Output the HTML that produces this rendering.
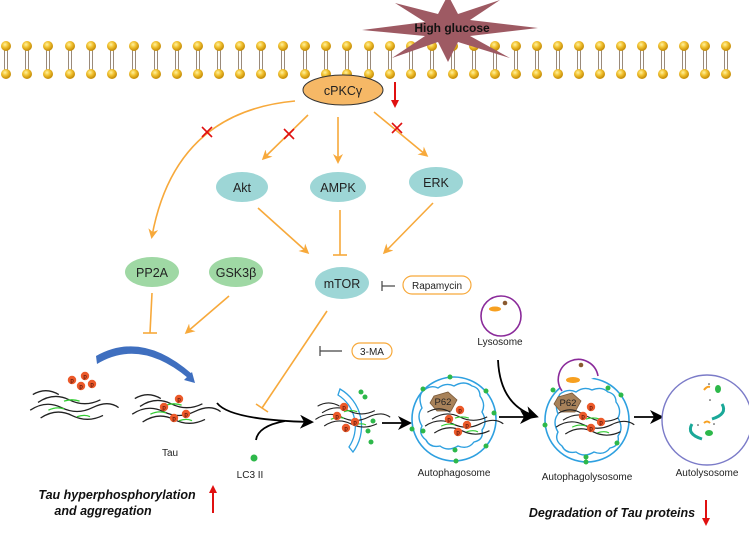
<!DOCTYPE html>
<html><head><meta charset="utf-8"><style>
html,body{margin:0;padding:0;background:#fff}
svg text{font-family:"Liberation Sans",sans-serif}
</style></head><body>
<svg width="749" height="528" viewBox="0 0 749 528" xmlns="http://www.w3.org/2000/svg">
<defs>
<marker id="oa" markerWidth="10" markerHeight="10" refX="7" refY="5" orient="auto" markerUnits="userSpaceOnUse"><path d="M0,0 L10,5 L0,10 L3,5 Z" fill="#f7a93b"/></marker>
<marker id="ba" markerWidth="14" markerHeight="14" refX="10" refY="7" orient="auto" markerUnits="userSpaceOnUse"><path d="M0,0 L14,7 L0,14 L4,7 Z" fill="#000"/></marker>
<marker id="ra" markerWidth="8" markerHeight="8" refX="4" refY="4" orient="auto" markerUnits="userSpaceOnUse"><path d="M0,0 L8,4 L0,8 Z" fill="#e01010"/></marker>
<radialGradient id="hg" cx="0.4" cy="0.35" r="0.6"><stop offset="0" stop-color="#fff2a0"/><stop offset="0.5" stop-color="#f2c230"/><stop offset="1" stop-color="#c8900a"/></radialGradient>
<g id="lip"><line x1="-1.5" y1="50" x2="-1.5" y2="70" stroke="#9a8a7a" stroke-width="1"/><line x1="1.5" y1="50" x2="1.5" y2="70" stroke="#9a8a7a" stroke-width="1"/><circle cx="0" cy="46" r="5" fill="url(#hg)"/><circle cx="0" cy="74" r="5" fill="url(#hg)"/></g>
<g id="strand" fill="none" stroke-width="1"><path d="M0,8 q12,-8 24,-2 t24,0" stroke="#222"/><path d="M-6,14 q12,-8 24,-2 t24,0 t20,0" stroke="#222"/><path d="M2,20 q12,-8 24,-2 t24,0" stroke="#222"/><path d="M-4,2 q10,-6 20,0" stroke="#222"/><path d="M20,7 q6,-2 12,0" stroke="#3c3"/><path d="M8,14 q6,-3 12,-1" stroke="#3c3"/><path d="M30,19 q6,-2 10,0" stroke="#3c3"/></g>
<g id="pp"><circle r="4.2" fill="#ec5a2a"/><text y="2.5" font-size="6" text-anchor="middle" fill="#300">p</text></g>
</defs>

<!-- membrane -->
<g>
<use href="#lip" x="6"/><use href="#lip" x="27"/><use href="#lip" x="48"/><use href="#lip" x="70"/><use href="#lip" x="91"/><use href="#lip" x="112"/><use href="#lip" x="134"/><use href="#lip" x="156"/><use href="#lip" x="177"/><use href="#lip" x="198"/><use href="#lip" x="219"/><use href="#lip" x="240"/><use href="#lip" x="261"/><use href="#lip" x="283"/><use href="#lip" x="305"/><use href="#lip" x="326"/><use href="#lip" x="347"/><use href="#lip" x="369"/><use href="#lip" x="390"/><use href="#lip" x="411"/><use href="#lip" x="432"/><use href="#lip" x="453"/><use href="#lip" x="474"/><use href="#lip" x="495"/><use href="#lip" x="516"/><use href="#lip" x="537"/><use href="#lip" x="558"/><use href="#lip" x="579"/><use href="#lip" x="600"/><use href="#lip" x="621"/><use href="#lip" x="642"/><use href="#lip" x="663"/><use href="#lip" x="684"/><use href="#lip" x="705"/><use href="#lip" x="726"/>
</g>

<!-- starburst (over membrane) -->
<polygon points="448,-5 458,14 500,0 470,20 538,28 470,36 510,58 458,42 448,62 438,42 392,58 425,36 362,30 425,22 395,3 438,14" fill="#9e5a63"/>
<text x="452" y="32" font-size="12" font-weight="bold" text-anchor="middle" fill="#111">High glucose</text>

<!-- cPKCg -->
<ellipse cx="343" cy="90" rx="40" ry="15" fill="#f6b866" stroke="#333" stroke-width="1"/>
<text x="343" y="95" font-size="12.5" text-anchor="middle" fill="#222">cPKCγ</text>
<line x1="395" y1="82" x2="395" y2="104" stroke="#e01010" stroke-width="2" marker-end="url(#ra)"/>

<!-- orange connectors -->
<g stroke="#f7a93b" stroke-width="1.6" fill="none">
<path d="M295,101 Q175,112 152,236" marker-end="url(#oa)"/>
<line x1="308" y1="115" x2="264" y2="158" marker-end="url(#oa)"/>
<line x1="338" y1="117" x2="338" y2="161" marker-end="url(#oa)"/>
<line x1="374" y1="112" x2="426" y2="155" marker-end="url(#oa)"/>
<line x1="258" y1="208" x2="307" y2="252" marker-end="url(#oa)"/>
<line x1="340" y1="210" x2="340" y2="255"/><line x1="333" y1="255" x2="347" y2="255"/>
<line x1="433" y1="203" x2="385" y2="252" marker-end="url(#oa)"/>
<line x1="152" y1="293" x2="150" y2="333"/><line x1="143" y1="333" x2="157" y2="333"/>
<line x1="229" y1="296" x2="187" y2="332" marker-end="url(#oa)"/>
<line x1="327" y1="311" x2="262" y2="408"/><line x1="256" y1="404" x2="268" y2="412"/>
</g>
<!-- red X -->
<g stroke="#e01010" stroke-width="1.6">
<line x1="202" y1="127" x2="212" y2="137"/><line x1="212" y1="127" x2="202" y2="137"/>
<line x1="284" y1="129" x2="294" y2="139"/><line x1="294" y1="129" x2="284" y2="139"/>
<line x1="392" y1="123" x2="402" y2="133"/><line x1="402" y1="123" x2="392" y2="133"/>
</g>

<!-- nodes -->
<g font-size="12.5" text-anchor="middle" fill="#222">
<ellipse cx="242" cy="187" rx="26" ry="15" fill="#9dd6d6"/><text x="242" y="192">Akt</text>
<ellipse cx="338" cy="187" rx="28" ry="15" fill="#9dd6d6"/><text x="338" y="192">AMPK</text>
<ellipse cx="436" cy="182" rx="27" ry="15" fill="#9dd6d6"/><text x="436" y="187">ERK</text>
<ellipse cx="152" cy="272" rx="27" ry="15" fill="#9fd8a4"/><text x="152" y="277">PP2A</text>
<ellipse cx="236" cy="272" rx="27" ry="15" fill="#9fd8a4"/><text x="236" y="277">GSK3β</text>
<ellipse cx="342" cy="283" rx="27" ry="16" fill="#9dd6d6"/><text x="342" y="288">mTOR</text>
</g>
<rect x="403" y="276" width="68" height="18" rx="9" fill="#fff" stroke="#f7a93b" stroke-width="1.2"/>
<text x="437" y="289" font-size="10" text-anchor="middle" fill="#222">Rapamycin</text>
<line x1="382" y1="286" x2="395" y2="286" stroke="#444" stroke-width="1.2"/><line x1="382" y1="281" x2="382" y2="291" stroke="#444" stroke-width="1.2"/>
<rect x="352" y="343" width="40" height="16" rx="8" fill="#fff" stroke="#f7a93b" stroke-width="1.2"/>
<text x="372" y="355" font-size="10" text-anchor="middle" fill="#222">3-MA</text>
<line x1="320" y1="351" x2="342" y2="351" stroke="#444" stroke-width="1.2"/><line x1="320" y1="346" x2="320" y2="356" stroke="#444" stroke-width="1.2"/>

<!-- blue curved arrow -->
<path d="M97,364 Q140,338 188,378 L192,374 Q142,330 96,356 Z" fill="#3f6fbf"/>
<polygon points="184,380 195,383 192,372" fill="#3f6fbf"/>

<!-- tau -->
<g transform="translate(38,392) scale(1.3)"><use href="#strand"/></g>
<use href="#pp" x="72" y="380"/><use href="#pp" x="85" y="376"/><use href="#pp" x="81" y="386"/><use href="#pp" x="92" y="384"/>
<g transform="translate(140,396) scale(1.3)"><use href="#strand"/></g>
<use href="#pp" x="164" y="407"/><use href="#pp" x="179" y="399"/><use href="#pp" x="174" y="418"/><use href="#pp" x="186" y="414"/>
<text x="170" y="456" font-size="10" text-anchor="middle" fill="#222">Tau</text>

<!-- black arrows -->
<path d="M217,403 Q230,420 310,422" stroke="#000" stroke-width="1.8" fill="none" marker-end="url(#ba)"/>
<path d="M256,440 Q258,426 285,421" stroke="#000" stroke-width="1.8" fill="none"/>
<circle cx="254" cy="458" r="3.5" fill="#2db84a"/>
<text x="250" y="478" font-size="10" text-anchor="middle" fill="#222">LC3 II</text>

<!-- phagophore -->
<path d="M340,389 A43,43 0 0 1 353,452 L349,447 A37,37 0 0 0 338,395 Z" fill="none" stroke="#2ea0e0" stroke-width="1.3"/>
<g transform="translate(322,404) scale(1.1)"><use href="#strand"/></g>
<use href="#pp" x="344" y="407"/><use href="#pp" x="337" y="416"/><use href="#pp" x="355" y="422"/><use href="#pp" x="346" y="428"/>
<g fill="#2db84a"><circle cx="361" cy="392" r="2.5"/><circle cx="365" cy="397" r="2.5"/><circle cx="373" cy="421" r="2.5"/><circle cx="368" cy="431" r="2.5"/><circle cx="371" cy="442" r="2.5"/></g>
<line x1="382" y1="423" x2="408" y2="423" stroke="#000" stroke-width="1.8" marker-end="url(#ba)"/>

<!-- autophagosome -->
<circle cx="454" cy="419" r="42" fill="none" stroke="#2ea0e0" stroke-width="1.6"/>
<path d="M422,392 q8,-8 16,-4 q8,-6 16,-2 q10,-6 18,0 q8,2 8,10 q6,8 2,16 q6,10 0,18 q2,10 -8,12 q-6,8 -16,4 q-10,6 -18,0 q-10,2 -14,-6 q-8,-6 -4,-14 q-6,-10 0,-18 q-4,-10 0,-16z" fill="none" stroke="#2ea0e0" stroke-width="1.4"/>
<polygon points="434,396 448,392 457,400 451,411 437,411 430,403" fill="#a8825a" stroke="#7a5a3a" stroke-width="0.8"/>
<text x="443" y="405" font-size="9.5" text-anchor="middle" fill="#222">P62</text>
<g transform="translate(432,410) scale(1.15)"><use href="#strand"/></g>
<use href="#pp" x="460" y="410"/><use href="#pp" x="449" y="419"/><use href="#pp" x="467" y="425"/><use href="#pp" x="458" y="432"/>
<g fill="#2db84a"><circle cx="450" cy="377" r="2.5"/><circle cx="423" cy="389" r="2.5"/><circle cx="486" cy="391" r="2.5"/><circle cx="494" cy="413" r="2.5"/><circle cx="412" cy="429" r="2.5"/><circle cx="486" cy="446" r="2.5"/><circle cx="456" cy="461" r="2.5"/><circle cx="455" cy="450" r="2.5"/><circle cx="423" cy="431" r="2.5"/></g>
<text x="454" y="476" font-size="10" text-anchor="middle" fill="#222">Autophagosome</text>
<line x1="499" y1="417" x2="530" y2="417" stroke="#000" stroke-width="1.8" marker-end="url(#ba)"/>

<!-- lysosome -->
<circle cx="501" cy="316" r="20" fill="#fff" stroke="#8a2a9a" stroke-width="1.6"/>
<ellipse cx="495" cy="309" rx="6" ry="2.5" fill="#f7a020"/><circle cx="505" cy="303" r="2.3" fill="#8a5a30"/>
<text x="500" y="345" font-size="10" text-anchor="middle" fill="#222">Lysosome</text>
<path d="M498,360 Q500,405 535,416" stroke="#000" stroke-width="1.8" fill="none" marker-end="url(#ba)"/>

<!-- autophagolysosome -->
<circle cx="587" cy="420" r="42" fill="none" stroke="#2ea0e0" stroke-width="1.6"/>
<path d="M560,394 q8,-6 16,-2 q8,-6 16,-2 q10,-4 16,2 q8,2 8,10 q6,8 2,16 q6,10 0,18 q2,10 -8,12 q-6,8 -16,4 q-10,6 -18,0 q-10,2 -14,-6 q-8,-6 -4,-14 q-6,-10 0,-18 q-4,-10 2,-20z" fill="none" stroke="#2ea0e0" stroke-width="1.4"/>
<path d="M562,391 A20,20 0 1 1 598,376" fill="#fff" stroke="#8a2a9a" stroke-width="1.6"/>
<ellipse cx="573" cy="380" rx="7" ry="3" fill="#f7a020"/><circle cx="581" cy="365" r="2.3" fill="#8a5a30"/>
<polygon points="558,397 572,393 581,401 575,412 561,412 554,404" fill="#a8825a" stroke="#7a5a3a" stroke-width="0.8"/>
<text x="568" y="406" font-size="9.5" text-anchor="middle" fill="#222">P62</text>
<g transform="translate(563,411) scale(1.15)"><use href="#strand"/></g>
<use href="#pp" x="591" y="407"/><use href="#pp" x="583" y="416"/><use href="#pp" x="601" y="422"/><use href="#pp" x="591" y="428"/>
<g fill="#2db84a"><circle cx="553" cy="390" r="2.5"/><circle cx="608" cy="388" r="2.5"/><circle cx="621" cy="395" r="2.5"/><circle cx="545" cy="425" r="2.5"/><circle cx="617" cy="443" r="2.5"/><circle cx="586" cy="457" r="2.5"/><circle cx="586" cy="462" r="2.5"/></g>
<text x="587" y="480" font-size="10" text-anchor="middle" fill="#222">Autophagolysosome</text>
<line x1="634" y1="417" x2="660" y2="417" stroke="#000" stroke-width="1.8" marker-end="url(#ba)"/>

<!-- autolysosome -->
<circle cx="707" cy="420" r="45" fill="#fff" stroke="#7b7bc8" stroke-width="1.4"/>
<path d="M722,404 q6,10 -10,15" stroke="#1aa898" stroke-width="3" fill="none"/>
<path d="M692,424 q-6,10 10,15" stroke="#1aa898" stroke-width="3" fill="none"/>
<ellipse cx="718" cy="389" rx="3" ry="4" fill="#2db84a"/><ellipse cx="709" cy="433" rx="4" ry="3" fill="#2db84a"/>
<path d="M704,390 q3,-4 6,-3" stroke="#f7a020" stroke-width="2" fill="none"/><path d="M704,423 q3,-3 6,0" stroke="#f7a020" stroke-width="2" fill="none"/>
<g fill="#333"><circle cx="709" cy="384" r="0.8"/><circle cx="710" cy="400" r="0.8"/><circle cx="698" cy="425" r="0.8"/><circle cx="714" cy="424" r="0.8"/></g>
<text x="707" y="476" font-size="10" text-anchor="middle" fill="#222">Autolysosome</text>

<!-- bottom texts -->
<text x="117" y="499" font-size="12.5" font-weight="bold" font-style="italic" text-anchor="middle" fill="#111">Tau hyperphosphorylation</text>
<text x="103" y="515" font-size="12.5" font-weight="bold" font-style="italic" text-anchor="middle" fill="#111">and aggregation</text>
<line x1="213" y1="513" x2="213" y2="489" stroke="#e01010" stroke-width="2" marker-end="url(#ra)"/>
<text x="612" y="517" font-size="12.5" font-weight="bold" font-style="italic" text-anchor="middle" fill="#111">Degradation of Tau proteins</text>
<line x1="706" y1="500" x2="706" y2="522" stroke="#e01010" stroke-width="2" marker-end="url(#ra)"/>
</svg>
</body></html>
